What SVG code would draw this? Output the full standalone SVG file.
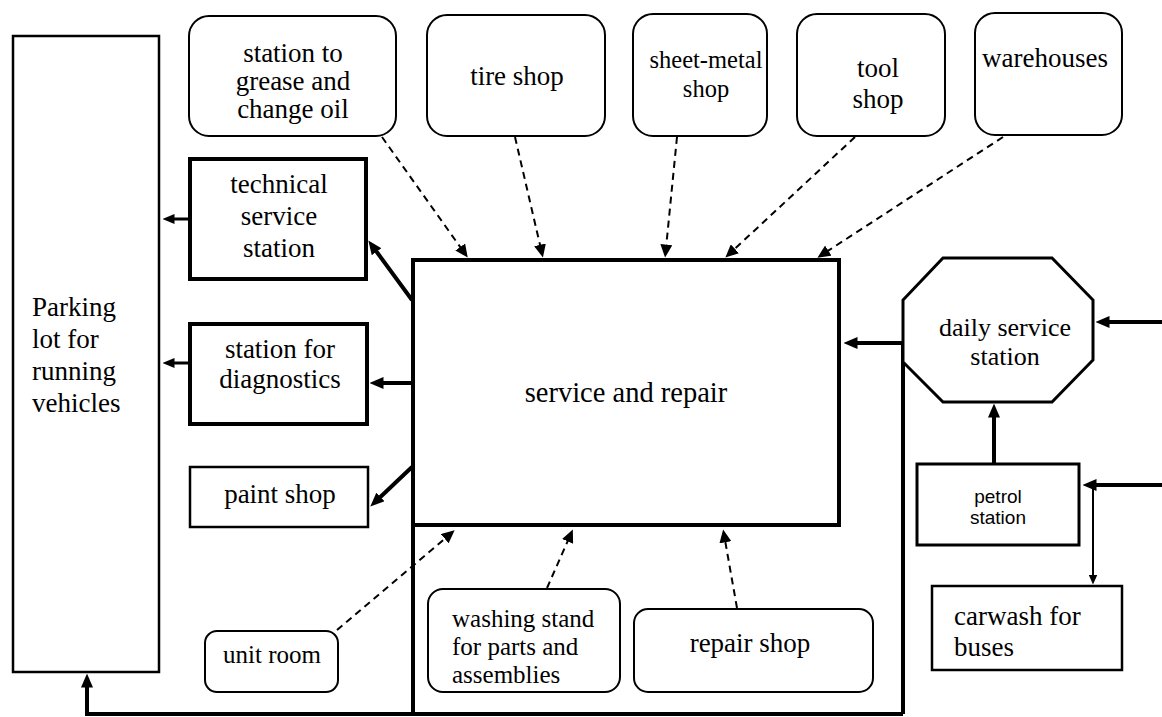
<svg xmlns="http://www.w3.org/2000/svg" width="1162" height="717" viewBox="0 0 1162 717">
<style>
text{font-family:"Liberation Serif","Times New Roman",serif;font-size:27px;fill:#000;}
.c{text-anchor:middle;}
.sans{font-family:"Liberation Sans",Arial,sans-serif;font-size:19px;}
.rb{fill:#fff;stroke:#000;stroke-width:2;}
.b{fill:#fff;stroke:#000;}
.thick{fill:none;stroke:#000;stroke-width:4;}
.med{fill:none;stroke:#000;stroke-width:3;}
.dash{fill:none;stroke:#000;stroke-width:2;stroke-dasharray:7 5;}
.thin{fill:none;stroke:#000;stroke-width:2;}
</style>
<defs>
<marker id="ahT" viewBox="0 0 14 12" refX="0.5" refY="6" markerWidth="14" markerHeight="12" markerUnits="userSpaceOnUse" orient="auto"><path d="M0,0 L14,6 L0,12 z" fill="#000"/></marker>
<marker id="ahM" viewBox="0 0 12 10" refX="0.5" refY="5" markerWidth="12" markerHeight="10" markerUnits="userSpaceOnUse" orient="auto"><path d="M0,0 L12,5 L0,10 z" fill="#000"/></marker>
<marker id="ahD" viewBox="0 0 13 12" refX="0.5" refY="6" markerWidth="13" markerHeight="12" markerUnits="userSpaceOnUse" orient="auto"><path d="M0,0 L13,6 L0,12 z" fill="#000"/></marker>
<marker id="ahS" viewBox="0 0 10 9" refX="0.5" refY="4.5" markerWidth="10" markerHeight="9" markerUnits="userSpaceOnUse" orient="auto"><path d="M0,0 L10,4.5 L0,9 z" fill="#000"/></marker>
</defs>
<rect width="1162" height="717" fill="#fff"/>

<g id="connectors">
<line class="med" x1="188" y1="219" x2="174" y2="219" marker-end="url(#ahM)"/>
<line class="med" x1="188" y1="363" x2="174" y2="363" marker-end="url(#ahM)"/>
<line class="thick" x1="412" y1="300" x2="376.3" y2="251.3" marker-end="url(#ahT)"/>
<line class="thick" x1="412" y1="383" x2="383" y2="383" marker-end="url(#ahT)"/>
<line class="thick" x1="412" y1="467" x2="380.1" y2="497.3" marker-end="url(#ahT)"/>
<path class="thick" d="M413,527 V714 H87 V687" marker-end="url(#ahT)"/>
<path class="thick" d="M413,714 H903"/>
<path class="thick" d="M903,714 V343 H857" marker-end="url(#ahT)"/>
<line class="thick" x1="1162" y1="322" x2="1109" y2="322" marker-end="url(#ahT)"/>
<line class="thick" x1="1162" y1="485" x2="1096" y2="485" marker-end="url(#ahT)"/>
<line class="thick" x1="994" y1="463" x2="994" y2="417" marker-end="url(#ahT)"/>
<line class="thin" x1="1093" y1="485" x2="1093" y2="575" marker-end="url(#ahS)"/>
<line class="dash" x1="382" y1="137" x2="460.5" y2="247.4" marker-end="url(#ahD)"/>
<line class="dash" x1="515" y1="137" x2="540.1" y2="245.3" marker-end="url(#ahD)"/>
<line class="dash" x1="677" y1="137" x2="666.3" y2="245.1" marker-end="url(#ahD)"/>
<line class="dash" x1="855" y1="137" x2="734.5" y2="249.1" marker-end="url(#ahD)"/>
<line class="dash" x1="1003" y1="137" x2="827.9" y2="250.9" marker-end="url(#ahD)"/>
<line class="dash" x1="337" y1="630" x2="445.1" y2="538.4" marker-end="url(#ahD)"/>
<line class="dash" x1="547" y1="588" x2="567.8" y2="540.9" marker-end="url(#ahD)"/>
<line class="dash" x1="737" y1="608" x2="725.3" y2="541.8" marker-end="url(#ahD)"/>
</g>

<g id="parking">
<rect class="b" x="13" y="36" width="146" height="636" stroke-width="2.5"/>
<text x="32" y="316">Parking</text>
<text x="32" y="348">lot for</text>
<text x="32" y="380">running</text>
<text x="32" y="412">vehicles</text>
</g>

<g id="grease">
<rect class="rb" x="189" y="16" width="207" height="120" rx="20"/>
<text class="c" x="293" y="62">station to</text>
<text class="c" x="293" y="90">grease and</text>
<text class="c" x="293" y="118">change oil</text>
</g>

<g id="tire">
<rect class="rb" x="427" y="15" width="178" height="121" rx="20"/>
<text class="c" x="517" y="85">tire shop</text>
</g>

<g id="sheetmetal">
<rect class="rb" x="633" y="14" width="134" height="122" rx="20"/>
<text class="c" x="706" y="68" style="font-size:24.5px">sheet-metal</text>
<text class="c" x="706" y="97" style="font-size:24.5px">shop</text>
</g>

<g id="tool">
<rect class="rb" x="797" y="14" width="148" height="122" rx="20"/>
<text class="c" x="878" y="77">tool</text>
<text class="c" x="878" y="108">shop</text>
</g>

<g id="warehouses">
<rect class="rb" x="975" y="13" width="147" height="122" rx="20"/>
<text class="c" x="1045" y="67">warehouses</text>
</g>

<g id="technical">
<rect class="b" x="190" y="159" width="176" height="120" stroke-width="4"/>
<text class="c" x="279" y="193">technical</text>
<text class="c" x="279" y="225">service</text>
<text class="c" x="279" y="257">station</text>
</g>

<g id="diagnostics">
<rect class="b" x="190" y="324" width="177" height="100" stroke-width="4"/>
<text class="c" x="280" y="358">station for</text>
<text class="c" x="280" y="388">diagnostics</text>
</g>

<g id="paint">
<rect class="b" x="190" y="467" width="178" height="60" stroke-width="2.5"/>
<text class="c" x="280" y="503">paint shop</text>
</g>

<g id="unitroom">
<rect class="rb" x="205" y="631" width="133" height="61" rx="12"/>
<text class="c" x="272" y="663" style="font-size:25px">unit room</text>
</g>

<g id="main">
<rect class="b" x="413" y="260" width="426" height="265" stroke-width="4"/>
<text class="c" x="626" y="402" style="font-size:28.5px">service and repair</text>
</g>

<g id="washing">
<rect class="rb" x="428" y="589" width="192" height="103" rx="15"/>
<text x="452" y="627" style="font-size:25px">washing stand</text>
<text x="452" y="655" style="font-size:25px">for parts and</text>
<text x="452" y="683" style="font-size:25px">assemblies</text>
</g>

<g id="repairshop">
<rect class="rb" x="634" y="609" width="239" height="83" rx="14"/>
<text class="c" x="750" y="652">repair shop</text>
</g>

<g id="daily">
<polygon class="b" stroke-width="3" points="943,258 1052,258 1093,300 1093,360 1052,402 943,402 903,362 903,300"/>
<text class="c" x="1005" y="336" style="font-size:26px">daily service</text>
<text class="c" x="1005" y="365" style="font-size:26px">station</text>
</g>

<g id="petrol">
<rect class="b" x="917" y="464" width="162" height="81" stroke-width="3"/>
<text class="c sans" x="998" y="503">petrol</text>
<text class="c sans" x="998" y="524">station</text>
</g>

<g id="carwash">
<rect class="b" x="932" y="586" width="190" height="84" stroke-width="2.5"/>
<text x="954" y="625">carwash for</text>
<text x="954" y="656">buses</text>
</g>
</svg>
